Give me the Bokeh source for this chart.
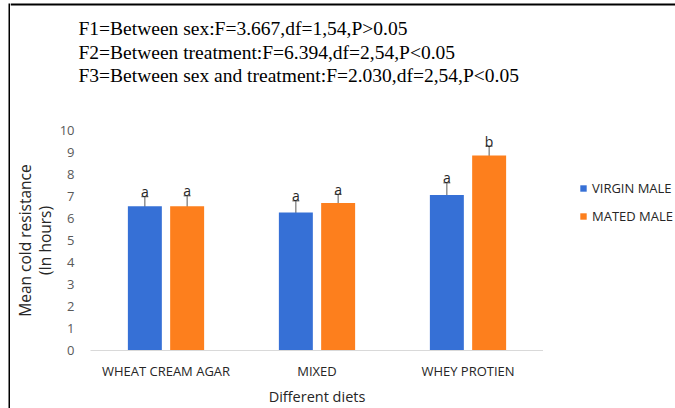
from bokeh.plotting import figure
from bokeh.layouts import row, column
from bokeh.models import (ColumnDataSource, Range1d, Whisker, TeeHead, Label, BoxAnnotation,
                          Legend, LegendItem, FixedTicker)
from bokeh.embed import file_html
from bokeh.resources import INLINE

categories = ["WHEAT CREAM AGAR", "MIXED", "WHEY PROTIEN"]
virgin = [6.56, 6.27, 7.07]
virgin_err = [0.43, 0.53, 0.55]
mated = [6.56, 6.70, 8.86]
mated_err = [0.47, 0.40, 0.43]
virgin_letters = ["a", "a", "a"]
mated_letters = ["a", "a", "b"]
series_names = ["VIRGIN MALE", "MATED MALE"]
stats_lines = [
    "F1=Between sex:F=3.667,df=1,54,P>0.05",
    "F2=Between treatment:F=6.394,df=2,54,P<0.05",
    "F3=Between sex and treatment:F=2.030,df=2,54,P<0.05",
]
y_ticks = list(range(0, 11))

BLUE = "#3670d6"
ORANGE = "#fd7f1d"
GREY = "#595959"
TXT = "#262626"
FONT = "Open Sans"


def blank(width, height, xr, yr):
    f = figure(width=width, height=height, x_range=xr, y_range=yr,
               output_backend="svg", toolbar_location=None,
               x_axis_location=None, y_axis_location=None, min_border=0)
    f.outline_line_color = None
    f.grid.visible = False
    return f


# ---- left border strip -------------------------------------------------
strip = blank(10, 408, Range1d(0, 10), Range1d(408, 0))
strip.add_layout(BoxAnnotation(left=8, right=10, top=3, bottom=408, fill_color="black",
                               fill_alpha=1, line_color=None))

# ---- statistics text block ---------------------------------------------
head = blank(665, 120, Range1d(0, 665), Range1d(120, 0))
head.add_layout(BoxAnnotation(left=0, right=665, top=3, bottom=5, fill_color="black",
                              fill_alpha=1, line_color=None))
for i, line in enumerate(stats_lines):
    head.add_layout(Label(x=68, y=28 + i * 23.5, text=line, text_font="Liberation Serif",
                          text_font_size="19.5px", text_color="black",
                          text_baseline="middle"))

# ---- bar chart -----------------------------------------------------------
off = 0.14
bw = 0.225
centers = [i + 0.5 for i in range(len(categories))]
src = ColumnDataSource(dict(
    vx=[c - off for c in centers], mx=[c + off for c in centers],
    virgin=virgin, v_up=[v + e for v, e in zip(virgin, virgin_err)],
    v_lo=[v - e for v, e in zip(virgin, virgin_err)],
    mated=mated, m_up=[v + e for v, e in zip(mated, mated_err)],
    m_lo=[v - e for v, e in zip(mated, mated_err)],
    vl=virgin_letters, ml=mated_letters,
))

p = figure(x_range=Range1d(0, len(categories)), y_range=(0, 10), width=533, height=288,
           output_backend="svg", toolbar_location=None,
           min_border_left=80, min_border_right=0, min_border_top=10, min_border_bottom=53)
p.outline_line_color = None
p.xgrid.grid_line_color = None
p.ygrid.grid_line_color = None

p.vbar(x="vx", top="virgin", width=bw, source=src, fill_color=BLUE, line_color=None)
p.vbar(x="mx", top="mated", width=bw, source=src, fill_color=ORANGE, line_color=None)

for bx, up, lo in (("vx", "v_up", "v_lo"), ("mx", "m_up", "m_lo")):
    p.add_layout(Whisker(base=bx, upper=up, lower=lo, source=src,
                         line_color=GREY, line_width=1,
                         upper_head=TeeHead(size=7, line_color=GREY, line_width=1),
                         lower_head=TeeHead(size=7, line_color=GREY, line_width=1)))

for bx, up, col in (("vx", "v_up", "vl"), ("mx", "m_up", "ml")):
    p.text(x=bx, y=up, text=col, source=src,
           text_align="center", text_baseline="alphabetic", y_offset=-5,
           text_font_size="14px", text_color=TXT, text_font={"value": FONT})

p.yaxis.ticker = FixedTicker(ticks=y_ticks)
p.yaxis.axis_line_color = None
p.yaxis.major_tick_line_color = None
p.yaxis.minor_tick_line_color = None
p.yaxis.major_label_standoff = 10
p.yaxis.major_label_text_font = FONT
p.yaxis.major_label_text_font_size = "13px"
p.yaxis.major_label_text_color = GREY
p.yaxis.axis_label = "Mean cold resistance\n(In hours)"
p.yaxis.axis_label_text_font = FONT
p.yaxis.axis_label_text_font_size = "15.5px"
p.yaxis.axis_label_text_font_style = "normal"
p.yaxis.axis_label_text_line_height = 0.9
p.yaxis.axis_label_text_color = TXT
p.yaxis.axis_label_standoff = 1

p.xaxis.ticker = FixedTicker(ticks=centers)
p.xaxis.major_label_overrides = {c: name for c, name in zip(centers, categories)}
p.xaxis.axis_line_color = "#d9d9d9"
p.xaxis.major_tick_line_color = None
p.xaxis.minor_tick_line_color = None
p.xaxis.major_label_standoff = 5
p.xaxis.major_label_text_font = FONT
p.xaxis.major_label_text_font_size = "13px"
p.xaxis.major_label_text_color = TXT
p.xaxis.axis_label = "Different diets"
p.xaxis.axis_label_text_font = FONT
p.xaxis.axis_label_text_font_size = "14.5px"
p.xaxis.axis_label_text_font_style = "normal"
p.xaxis.axis_label_text_color = TXT
p.xaxis.axis_label_standoff = 4

# ---- legend panel (its frame is aligned with the chart's frame) ---------
side = blank(132, 288, Range1d(0, 1), Range1d(0, 1))
key_src = ColumnDataSource(dict(x=[float("nan")] * 2, top=[0, 0], color=[BLUE, ORANGE]))
key = side.vbar(x="x", top="top", width=0.1, fill_color="color", line_color=None,
                source=key_src)
legend = Legend(items=[LegendItem(label=name, renderers=[key], index=i)
                       for i, name in enumerate(series_names)],
                location=(36, 124), orientation="vertical",
                glyph_width=8, glyph_height=8, label_height=20, spacing=8,
                label_standoff=5, padding=0, margin=0,
                label_text_font=FONT, label_text_font_size="13px",
                label_text_color=TXT,
                border_line_color=None, background_fill_alpha=0)
side.add_layout(legend)

layout = row(strip, column(head, row(p, side)))
open("out.html", "w").write(file_html(layout, INLINE))
